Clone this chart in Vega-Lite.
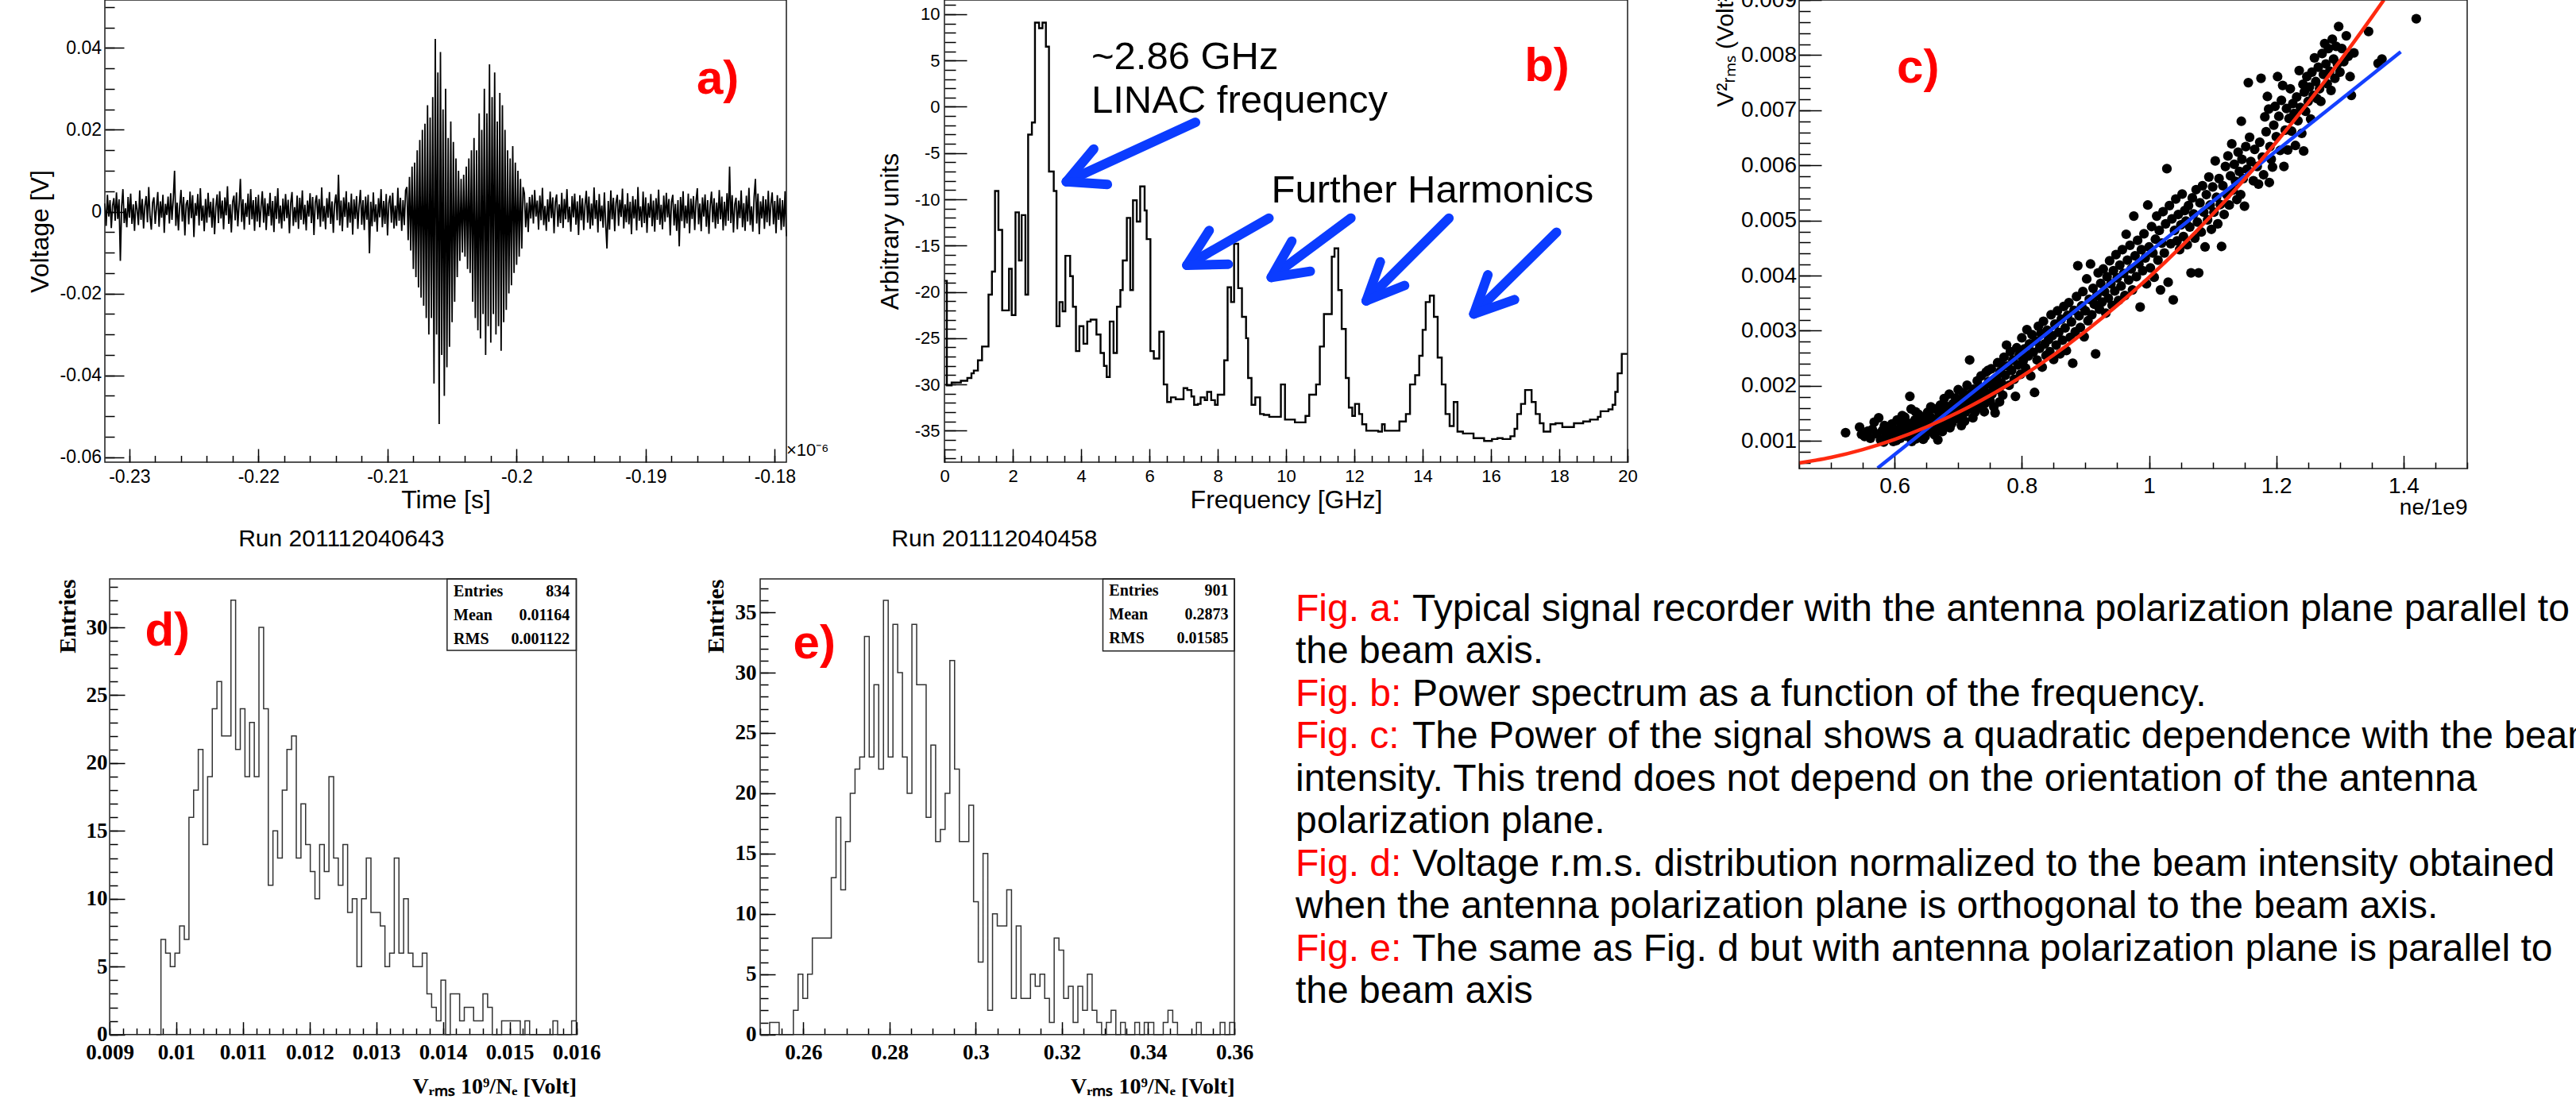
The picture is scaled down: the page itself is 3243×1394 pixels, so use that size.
{
"$schema": "https://vega.github.io/schema/vega-lite/v6.json",
"width": 3243, "height": 1394,
"autosize": {"type": "none"},
"padding": 0,
"background": "white",
"view": {"stroke": null},
"config": {
  "axis": {"grid": false, "domain": false, "labelFlush": false, "labelOverlap": false, "labelBound": false, "labelColor": "black", "titleColor": "black", "tickColor": "black", "tickWidth": 1.5, "labelFont": "Liberation Sans", "titleFont": "Liberation Sans", "titleFontWeight": "normal", "titlePadding": 0}
},
"resolve": {"scale": {"x": "independent", "y": "independent"}, "axis": {"x": "independent", "y": "independent"}},
"layer": [
{
 "resolve": {"axis": {"x": "independent", "y": "independent"}},
 "layer": [
  {
   "data": {"values": "t,v\n-0.2319,0.002\n-0.2318,-0.0035\n-0.2317,0.0041\n-0.2316,-0.0012\n-0.2315,0.0028\n-0.2314,-0.004\n-0.2313,0.0015\n-0.2312,0.0033\n-0.2311,-0.0022\n-0.231,0.0047\n-0.2309,-0.0018\n-0.2308,0.003\n-0.2307,-0.012\n-0.2306,0.0012\n-0.2305,0.0055\n-0.2304,-0.0028\n-0.2303,0.0008\n-0.2302,-0.0038\n-0.2301,0.0036\n-0.23,-0.0015\n-0.2299,0.0044\n-0.2298,-0.003\n-0.2297,0.0018\n-0.2296,-0.0047\n-0.2295,0.0026\n-0.2294,0.0005\n-0.2293,-0.0033\n-0.2292,0.0052\n-0.2291,-0.002\n-0.229,0.0031\n-0.2289,-0.0041\n-0.2288,0.0014\n-0.2287,0.0038\n-0.2286,-0.0026\n-0.2285,0.006\n-0.2284,-0.0012\n-0.2283,-0.0044\n-0.2282,0.0022\n-0.2281,0.0035\n-0.228,-0.003\n-0.2279,0.001\n-0.2278,0.0048\n-0.2277,-0.0037\n-0.2276,0.0025\n-0.2275,-0.0015\n-0.2274,0.0041\n-0.2273,-0.0052\n-0.2272,0.0019\n-0.2271,-0.0008\n-0.227,0.0037\n-0.2269,-0.0029\n-0.2268,0.0045\n-0.2267,-0.002\n-0.2266,0.003\n-0.2265,0.01\n-0.2264,-0.0035\n-0.2263,0.0022\n-0.2262,-0.0046\n-0.2261,0.0014\n-0.226,0.0053\n-0.2259,-0.0024\n-0.2258,0.0036\n-0.2257,-0.0058\n-0.2256,0.0018\n-0.2255,0.0028\n-0.2254,-0.0031\n-0.2253,0.0049\n-0.2252,-0.0016\n-0.2251,0.004\n-0.225,-0.0062\n-0.2249,0.0021\n-0.2248,-0.001\n-0.2247,0.0043\n-0.2246,-0.0034\n-0.2245,0.0057\n-0.2244,-0.0022\n-0.2243,0.0015\n-0.2242,-0.0048\n-0.2241,0.0031\n-0.224,-0.0027\n-0.2239,0.0046\n-0.2238,-0.0014\n-0.2237,0.0024\n-0.2236,-0.0039\n-0.2235,0.0033\n-0.2234,-0.0055\n-0.2233,0.0012\n-0.2232,0.0042\n-0.2231,-0.0028\n-0.223,0.005\n-0.2229,-0.0017\n-0.2228,0.0027\n-0.2227,-0.0043\n-0.2226,0.0035\n-0.2225,-0.0009\n-0.2224,0.0062\n-0.2223,-0.003\n-0.2222,0.0018\n-0.2221,-0.0051\n-0.222,0.0024\n-0.2219,0.0039\n-0.2218,-0.0021\n-0.2217,0.0047\n-0.2216,-0.0036\n-0.2215,0.0016\n-0.2214,0.008\n-0.2213,-0.0025\n-0.2212,0.003\n-0.2211,-0.0044\n-0.221,0.0021\n-0.2209,-0.0013\n-0.2208,0.0044\n-0.2207,-0.0032\n-0.2206,0.0055\n-0.2205,-0.0019\n-0.2204,0.0028\n-0.2203,-0.0047\n-0.2202,0.0036\n-0.2201,-0.0024\n-0.22,0.0041\n-0.2199,-0.0038\n-0.2198,0.0012\n-0.2197,0.005\n-0.2196,-0.0027\n-0.2195,0.0033\n-0.2194,-0.0045\n-0.2193,0.002\n-0.2192,-0.0011\n-0.2191,0.0046\n-0.219,-0.0034\n-0.2189,0.0026\n-0.2188,-0.005\n-0.2187,0.0038\n-0.2186,-0.0018\n-0.2185,0.0057\n-0.2184,-0.0029\n-0.2183,0.0015\n-0.2182,-0.0041\n-0.2181,0.0032\n-0.218,-0.0023\n-0.2179,0.0043\n-0.2178,-0.0016\n-0.2177,0.0029\n-0.2176,-0.0053\n-0.2175,0.0021\n-0.2174,0.0048\n-0.2173,-0.0035\n-0.2172,0.0011\n-0.2171,-0.0026\n-0.217,0.0039\n-0.2169,-0.0042\n-0.2168,0.0034\n-0.2167,-0.002\n-0.2166,0.0052\n-0.2165,-0.0031\n-0.2164,0.0017\n-0.2163,-0.0046\n-0.2162,0.0027\n-0.2161,-0.0012\n-0.216,0.0045\n-0.2159,-0.0028\n-0.2158,0.0036\n-0.2157,-0.0057\n-0.2156,0.0022\n-0.2155,0.004\n-0.2154,-0.0019\n-0.2153,0.0031\n-0.2152,-0.0037\n-0.2151,0.0059\n-0.215,-0.0024\n-0.2149,0.0014\n-0.2148,-0.0043\n-0.2147,0.0033\n-0.2146,-0.0015\n-0.2145,0.0048\n-0.2144,-0.003\n-0.2143,0.0025\n-0.2142,-0.0052\n-0.2141,0.0019\n-0.214,0.0042\n-0.2139,-0.0021\n-0.2138,0.009\n-0.2137,-0.0034\n-0.2136,0.0027\n-0.2135,-0.0048\n-0.2134,0.0035\n-0.2133,-0.0013\n-0.2132,0.005\n-0.2131,-0.0039\n-0.213,0.0023\n-0.2129,-0.0027\n-0.2128,0.0044\n-0.2127,-0.0056\n-0.2126,0.003\n-0.2125,-0.0018\n-0.2124,0.0038\n-0.2123,-0.0042\n-0.2122,0.0016\n-0.2121,0.0053\n-0.212,-0.0032\n-0.2119,0.0028\n-0.2118,-0.0045\n-0.2117,0.0037\n-0.2116,-0.002\n-0.2115,0.0041\n-0.2114,-0.0102\n-0.2113,0.0024\n-0.2112,-0.0036\n-0.2111,0.0047\n-0.211,-0.0025\n-0.2109,0.0018\n-0.2108,-0.0049\n-0.2107,0.0033\n-0.2106,-0.0014\n-0.2105,0.0055\n-0.2104,-0.0038\n-0.2103,0.0026\n-0.2102,-0.003\n-0.2101,0.0043\n-0.21,-0.0058\n-0.2099,0.0021\n-0.2098,0.0039\n-0.2097,-0.0027\n-0.2096,0.0046\n-0.2095,-0.0041\n-0.2094,0.0015\n-0.2093,-0.0035\n-0.2092,0.0058\n-0.2091,-0.0022\n-0.209,0.0034\n-0.2089,-0.0047\n-0.2088,0.0028\n-0.2087,-0.0033\n-0.2086,0.0052\n-0.2085,0.006\n-0.2084,-0.007\n-0.2083,0.0085\n-0.2082,-0.0095\n-0.2081,0.011\n-0.208,-0.014\n-0.2079,0.012\n-0.2078,-0.016\n-0.2077,0.015\n-0.2076,-0.0185\n-0.2075,0.0175\n-0.2074,-0.021\n-0.2073,0.02\n-0.2072,-0.023\n-0.2071,0.0215\n-0.207,-0.026\n-0.2069,0.026\n-0.2068,-0.03\n-0.2067,0.023\n-0.2066,-0.026\n-0.2065,0.028\n-0.2064,-0.042\n-0.2063,0.0422\n-0.2062,-0.03\n-0.2061,0.034\n-0.206,-0.0519\n-0.2059,0.039\n-0.2058,-0.035\n-0.2057,0.025\n-0.2056,-0.045\n-0.2055,0.03\n-0.2054,-0.038\n-0.2053,0.018\n-0.2052,-0.033\n-0.2051,0.022\n-0.205,-0.027\n-0.2049,0.017\n-0.2048,-0.022\n-0.2047,0.013\n-0.2046,-0.016\n-0.2045,0.01\n-0.2044,-0.012\n-0.2043,0.008\n-0.2042,-0.01\n-0.2041,0.009\n-0.204,-0.011\n-0.2039,0.011\n-0.2038,-0.014\n-0.2037,0.013\n-0.2036,-0.015\n-0.2035,0.015\n-0.2034,-0.022\n-0.2033,0.018\n-0.2032,-0.026\n-0.2031,0.015\n-0.203,-0.029\n-0.2029,0.024\n-0.2028,-0.031\n-0.2027,0.02\n-0.2026,-0.025\n-0.2025,0.03\n-0.2024,-0.035\n-0.2023,0.024\n-0.2022,-0.028\n-0.2021,0.036\n-0.202,-0.032\n-0.2019,0.028\n-0.2018,-0.025\n-0.2017,0.034\n-0.2016,-0.03\n-0.2015,0.022\n-0.2014,-0.028\n-0.2013,0.029\n-0.2012,-0.034\n-0.2011,0.026\n-0.201,-0.027\n-0.2009,0.02\n-0.2008,-0.024\n-0.2007,0.015\n-0.2006,-0.02\n-0.2005,0.013\n-0.2004,-0.018\n-0.2003,0.016\n-0.2002,-0.015\n-0.2001,0.012\n-0.2,-0.013\n-0.1999,0.01\n-0.1998,-0.011\n-0.1997,0.008\n-0.1996,-0.009\n-0.1995,0.006\n-0.1994,0.0045\n-0.1993,-0.0038\n-0.1992,0.0022\n-0.1991,-0.005\n-0.199,0.0036\n-0.1989,-0.0017\n-0.1988,0.0041\n-0.1987,-0.0029\n-0.1986,0.0053\n-0.1985,-0.0012\n-0.1984,0.0027\n-0.1983,-0.0044\n-0.1982,0.0039\n-0.1981,-0.0021\n-0.198,0.0058\n-0.1979,-0.0033\n-0.1978,0.0014\n-0.1977,-0.0047\n-0.1976,0.003\n-0.1975,-0.0025\n-0.1974,0.0049\n-0.1973,-0.0016\n-0.1972,0.0035\n-0.1971,-0.0053\n-0.197,0.0023\n-0.1969,0.0042\n-0.1968,-0.0037\n-0.1967,0.0018\n-0.1966,-0.0028\n-0.1965,0.0046\n-0.1964,-0.004\n-0.1963,0.0031\n-0.1962,-0.0019\n-0.1961,0.0055\n-0.196,-0.0026\n-0.1959,0.0012\n-0.1958,-0.0049\n-0.1957,0.0038\n-0.1956,-0.0014\n-0.1955,0.0044\n-0.1954,-0.0032\n-0.1953,0.0025\n-0.1952,-0.0057\n-0.1951,0.004\n-0.195,-0.0021\n-0.1949,0.0033\n-0.1948,-0.0045\n-0.1947,0.0016\n-0.1946,0.0051\n-0.1945,-0.0027\n-0.1944,0.0037\n-0.1943,-0.0042\n-0.1942,0.002\n-0.1941,-0.0034\n-0.194,0.0059\n-0.1939,-0.0018\n-0.1938,0.0028\n-0.1937,-0.0051\n-0.1936,0.0043\n-0.1935,-0.0023\n-0.1934,0.0015\n-0.1933,-0.0039\n-0.1932,0.0047\n-0.1931,-0.003\n-0.193,-0.009\n-0.1929,0.0026\n-0.1928,-0.0044\n-0.1927,0.0052\n-0.1926,-0.0019\n-0.1925,0.0034\n-0.1924,-0.0048\n-0.1923,0.0022\n-0.1922,0.0041\n-0.1921,-0.0035\n-0.192,0.0029\n-0.1919,-0.0013\n-0.1918,0.0056\n-0.1917,-0.0041\n-0.1916,0.0018\n-0.1915,-0.0026\n-0.1914,0.0045\n-0.1913,-0.0031\n-0.1912,0.0024\n-0.1911,-0.0055\n-0.191,0.0038\n-0.1909,-0.0017\n-0.1908,0.003\n-0.1907,-0.0046\n-0.1906,0.006\n-0.1905,-0.0022\n-0.1904,0.0013\n-0.1903,-0.0038\n-0.1902,0.0049\n-0.1901,-0.0028\n-0.19,0.0035\n-0.1899,-0.0052\n-0.1898,0.0021\n-0.1897,-0.0015\n-0.1896,0.0043\n-0.1895,-0.0036\n-0.1894,0.0027\n-0.1893,-0.0049\n-0.1892,0.0033\n-0.1891,-0.002\n-0.189,0.0054\n-0.1889,-0.0032\n-0.1888,0.0017\n-0.1887,-0.0043\n-0.1886,0.0039\n-0.1885,-0.0025\n-0.1884,0.0046\n-0.1883,-0.0014\n-0.1882,0.0031\n-0.1881,-0.0058\n-0.188,0.0024\n-0.1879,0.0041\n-0.1878,-0.0034\n-0.1877,0.0019\n-0.1876,-0.0047\n-0.1875,0.0028\n-0.1874,-0.0085\n-0.1873,0.0036\n-0.1872,-0.0023\n-0.1871,0.005\n-0.187,-0.004\n-0.1869,0.0015\n-0.1868,-0.0029\n-0.1867,0.0044\n-0.1866,-0.0053\n-0.1865,0.0032\n-0.1864,-0.0018\n-0.1863,0.0038\n-0.1862,-0.0045\n-0.1861,0.0026\n-0.186,0.0057\n-0.1859,-0.0031\n-0.1858,0.002\n-0.1857,-0.0048\n-0.1856,0.0035\n-0.1855,-0.0012\n-0.1854,0.0042\n-0.1853,-0.0037\n-0.1852,0.0028\n-0.1851,-0.0054\n-0.185,0.0016\n-0.1849,0.0049\n-0.1848,-0.0026\n-0.1847,0.0033\n-0.1846,-0.0041\n-0.1845,0.0022\n-0.1844,-0.003\n-0.1843,0.0053\n-0.1842,-0.0019\n-0.1841,0.0037\n-0.184,-0.0046\n-0.1839,0.0024\n-0.1838,-0.0035\n-0.1837,0.0045\n-0.1836,-0.0022\n-0.1835,0.011\n-0.1834,-0.0028\n-0.1833,0.004\n-0.1832,-0.0051\n-0.1831,0.0018\n-0.183,0.0034\n-0.1829,-0.0043\n-0.1828,0.0027\n-0.1827,-0.0016\n-0.1826,0.0052\n-0.1825,-0.0038\n-0.1824,0.0021\n-0.1823,-0.0047\n-0.1822,0.0039\n-0.1821,-0.0024\n-0.182,0.0058\n-0.1819,-0.0033\n-0.1818,0.0013\n-0.1817,-0.0049\n-0.1816,0.0036\n-0.1815,0.008\n-0.1814,-0.0029\n-0.1813,0.0044\n-0.1812,-0.0055\n-0.1811,0.0025\n-0.181,-0.0017\n-0.1809,0.0038\n-0.1808,-0.0042\n-0.1807,0.003\n-0.1806,-0.0026\n-0.1805,0.0051\n-0.1804,-0.0035\n-0.1803,0.0019\n-0.1802,0.0047\n-0.1801,-0.0031\n-0.18,0.0026\n-0.1799,-0.0053\n-0.1798,0.004\n-0.1797,-0.002\n-0.1796,0.0033\n-0.1795,-0.0045\n-0.1794,0.0028\n-0.1793,-0.0037\n-0.1792,0.005\n-0.1791,-0.006", "format": {"type": "csv", "parse": {"t": "number", "v": "number"}}},
   "mark": {"type": "line", "color": "black", "strokeWidth": 1.8},
   "encoding": {
    "x": {"field": "t", "type": "quantitative", "scale": {"domain": [-0.2319, -0.1791], "range": [132, 990], "nice": false, "zero": false},
          "axis": {"orient": "bottom", "offset": -812, "values": [-0.23,-0.22,-0.21,-0.2,-0.19,-0.18], "labelExpr": "replace(format(datum.value,'~g'),'\u2212','-')", "tickSize": -17, "labelPadding": 24.5, "labelFontSize": 23, "title": "Time [s]", "titleFontSize": 32, "titleX": 561, "titleY": 57, "titleBaseline": "alphabetic"}},
    "y": {"field": "v", "type": "quantitative", "scale": {"domain": [-0.0612, 0.0517], "range": [582, 0], "nice": false, "zero": false},
          "axis": {"orient": "left", "offset": -132, "values": [-0.06,-0.04,-0.02,0,0.02,0.04], "labelExpr": "replace(format(datum.value,'~g'),'\u2212','-')", "tickSize": -24, "labelPadding": 28.5, "labelFontSize": 23, "title": "Voltage [V]", "titleFontSize": 32, "titleX": -72, "titleY": 291, "titleBaseline": "alphabetic"}}
   }
  },
  {
   "data": {"values": [{"lab": "a)"}]},
   "mark": {"type": "text", "color": "#ff0000", "font": "Liberation Sans", "fontWeight": "bold", "fontSize": 60, "align": "left", "baseline": "alphabetic"},
   "encoding": {
    "x": {"datum": -0.18606, "type": "quantitative", "axis": {"orient": "bottom", "offset": -812, "values": [-0.23,-0.228,-0.226,-0.224,-0.222,-0.22,-0.218,-0.216,-0.214,-0.212,-0.21,-0.208,-0.206,-0.204,-0.202,-0.2,-0.198,-0.196,-0.194,-0.192,-0.19,-0.188,-0.186,-0.184,-0.182,-0.18], "labels": false, "tickSize": -8.5, "title": null}},
    "y": {"datum": 0.02881, "type": "quantitative", "axis": {"orient": "left", "offset": -132, "values": [-0.06,-0.055,-0.05,-0.045,-0.04,-0.035,-0.03,-0.025,-0.02,-0.015,-0.01,-0.005,0,0.005,0.01,0.015,0.02,0.025,0.03,0.035,0.04,0.045,0.05], "labels": false, "tickSize": -12, "title": null}},
    "text": {"field": "lab"}
   }
  },
  {
   "data": {"values": [{"lab": "Run 201112040643"}]},
   "mark": {"type": "text", "color": "black", "font": "Liberation Sans", "fontSize": 30, "align": "left", "baseline": "alphabetic"},
   "encoding": {
    "x": {"datum": -0.22155, "type": "quantitative", "axis": null},
    "y": {"datum": -0.08167, "type": "quantitative", "axis": null},
    "text": {"field": "lab"}
   }
  },
  {
   "data": {"values": [{"lab": "\u00d710\u207b\u2076"}]},
   "mark": {"type": "text", "color": "black", "font": "Liberation Sans", "fontSize": 22, "align": "left", "baseline": "alphabetic"},
   "encoding": {
    "x": {"datum": -0.1791, "type": "quantitative", "axis": null},
    "y": {"datum": -0.0596, "type": "quantitative", "axis": null},
    "text": {"field": "lab"}
   }
  },
  {
   "data": {"values": [{"k": "frame"}]},
   "mark": {"type": "rect", "fill": null, "stroke": "#1a1a1a", "strokeWidth": 1.5},
   "encoding": {
    "x": {"datum": -0.2319, "type": "quantitative", "axis": null}, "x2": {"datum": -0.1791},
    "y": {"datum": -0.0612, "type": "quantitative", "axis": null}, "y2": {"datum": 0.0517}
   }
  }
 ]
},
{
 "resolve": {"axis": {"x": "independent", "y": "independent"}},
 "layer": [
  {
   "data": {"values": "f,v\n0,-18.8\n0.07,-30.1\n0.21,-29.8\n0.48,-29.6\n0.67,-29.3\n0.79,-28.8\n0.86,-28.5\n0.98,-27.4\n1.1,-25.9\n1.29,-20.3\n1.39,-17.8\n1.48,-9.1\n1.58,-13.3\n1.69,-22\n1.89,-17.5\n1.97,-22.5\n2.08,-11.4\n2.18,-16.6\n2.26,-11.7\n2.37,-20.3\n2.45,-3\n2.56,-1.7\n2.65,9.1\n2.77,8.5\n2.87,9.1\n2.97,6.5\n3.06,-7\n3.2,-9.1\n3.28,-23.7\n3.37,-21.1\n3.46,-22.1\n3.54,-16.1\n3.68,-18.3\n3.76,-21.6\n3.85,-26.4\n3.95,-23.7\n4.07,-25.6\n4.18,-23.2\n4.28,-23\n4.45,-24.6\n4.57,-26.6\n4.67,-28\n4.75,-29.2\n4.84,-23.2\n4.95,-26.6\n5.05,-21.6\n5.15,-19.8\n5.22,-16.6\n5.34,-12\n5.44,-19.8\n5.52,-10.1\n5.63,-12.4\n5.73,-8.6\n5.86,-11.2\n5.92,-14.3\n6.03,-26.4\n6.13,-27.2\n6.29,-24.3\n6.42,-30\n6.52,-31.9\n6.63,-31.4\n6.77,-31.6\n7,-30.4\n7.11,-30.6\n7.23,-31.3\n7.31,-32.2\n7.42,-32.1\n7.5,-31.4\n7.62,-31.7\n7.69,-30.8\n7.81,-31.7\n7.92,-32.2\n8,-31.1\n8.19,-27.4\n8.29,-19.5\n8.39,-21.1\n8.48,-14.8\n8.6,-19.6\n8.71,-22.7\n8.83,-25\n8.89,-29.3\n8.99,-32.2\n9.1,-31.4\n9.24,-33.2\n9.35,-33.3\n9.51,-33.5\n9.85,-30\n9.97,-33.8\n10.14,-33.8\n10.26,-34.1\n10.57,-33.4\n10.68,-31.1\n10.88,-30\n10.99,-25.9\n11.11,-22.4\n11.34,-16.2\n11.42,-15.3\n11.53,-19.8\n11.63,-24\n11.75,-29.3\n11.84,-32.5\n11.94,-33.4\n12.02,-32.1\n12.14,-33.2\n12.23,-34.3\n12.35,-35\n12.7,-35.1\n12.81,-34.3\n12.89,-35\n13.32,-34\n13.51,-33.2\n13.63,-30\n13.78,-29\n13.9,-26.9\n14,-24.1\n14.09,-21.1\n14.21,-20.4\n14.33,-22.7\n14.44,-27.1\n14.56,-30\n14.67,-33.2\n14.79,-34.5\n14.91,-31.9\n15.02,-35.1\n15.18,-35.3\n15.49,-35.8\n15.8,-36.1\n16.03,-35.9\n16.19,-35.8\n16.34,-35.9\n16.57,-35.6\n16.69,-34.8\n16.77,-33.2\n16.88,-32.1\n17,-30.6\n17.19,-31.9\n17.31,-33.2\n17.43,-34.2\n17.54,-35.1\n17.74,-34.3\n17.89,-34.2\n18.09,-34.6\n18.43,-34.2\n18.7,-34\n18.9,-33.8\n19.13,-33.5\n19.21,-32.9\n19.44,-32.7\n19.56,-32.2\n19.64,-30.8\n19.71,-28.8\n19.83,-26.7\n20,-26.7", "format": {"type": "csv", "parse": {"f": "number", "v": "number"}}},
   "mark": {"type": "line", "color": "black", "strokeWidth": 2.4, "interpolate": "step-after"},
   "encoding": {
    "x": {"field": "f", "type": "quantitative", "scale": {"domain": [0, 20], "range": [1189, 2049], "nice": false, "zero": false},
          "axis": {"orient": "bottom", "offset": -812, "values": [0,2,4,6,8,10,12,14,16,18,20], "tickSize": -17, "labelPadding": 24.5, "labelFontSize": 22, "title": "Frequency [GHz]", "titleFontSize": 32, "titleX": 1619, "titleY": 57, "titleBaseline": "alphabetic"}},
    "y": {"field": "v", "type": "quantitative", "scale": {"domain": [-38.4, 11.54], "range": [582, 0], "nice": false, "zero": false},
          "axis": {"orient": "left", "offset": -1189, "values": [-35,-30,-25,-20,-15,-10,-5,0,5,10], "labelExpr": "replace(format(datum.value,'~g'),'\u2212','-')", "tickSize": -28, "labelPadding": 34, "labelFontSize": 22, "title": "Arbitrary units", "titleFontSize": 32, "titleX": -59, "titleY": 291, "titleBaseline": "alphabetic"}}
   }
  },
  {
   "data": {"values": "f,v,f2,v2\n7.35,-1.68,3.57,-8.09\n4.37,-4.56,3.57,-8.09\n4.77,-8.39,3.57,-8.09\n9.5,-12.03,7.1,-17.12\n7.75,-13.37,7.1,-17.12\n8.31,-17.01,7.1,-17.12\n11.9,-12.03,9.57,-18.43\n10.17,-14.52,9.57,-18.43\n10.71,-17.78,9.57,-18.43\n14.77,-12.03,12.35,-20.96\n12.76,-16.75,12.35,-20.96\n13.47,-19.31,12.35,-20.96\n17.92,-13.56,15.5,-22.38\n15.91,-18.16,15.5,-22.38\n16.69,-20.84,15.5,-22.38", "format": {"type": "csv", "parse": {"f": "number", "v": "number", "f2": "number", "v2": "number"}}},
   "mark": {"type": "rule", "color": "#0b3cff", "strokeWidth": 12, "strokeCap": "round"},
   "encoding": {
    "x": {"field": "f", "type": "quantitative", "axis": {"orient": "bottom", "offset": -812, "values": [0,0.5,1,1.5,2,2.5,3,3.5,4,4.5,5,5.5,6,6.5,7,7.5,8,8.5,9,9.5,10,10.5,11,11.5,12,12.5,13,13.5,14,14.5,15,15.5,16,16.5,17,17.5,18,18.5,19,19.5,20], "labels": false, "tickSize": -8.5, "title": null}},
    "y": {"field": "v", "type": "quantitative", "axis": {"orient": "left", "offset": -1189, "values": [-38,-37,-36,-35,-34,-33,-32,-31,-30,-29,-28,-27,-26,-25,-24,-23,-22,-21,-20,-19,-18,-17,-16,-15,-14,-13,-12,-11,-10,-9,-8,-7,-6,-5,-4,-3,-2,-1,0,1,2,3,4,5,6,7,8,9,10,11], "labels": false, "tickSize": -14, "title": null}},
    "x2": {"field": "f2"},
    "y2": {"field": "v2"}
   }
  },
  {
   "data": {"values": [{"lab": "~2.86 GHz\nLINAC frequency"}]},
   "mark": {"type": "text", "color": "black", "font": "Liberation Sans", "fontSize": 49, "align": "left", "baseline": "alphabetic", "lineBreak": "\n", "lineHeight": 55},
   "encoding": {
    "x": {"datum": 4.3, "type": "quantitative", "axis": null},
    "y": {"datum": 4.07, "type": "quantitative", "axis": null},
    "text": {"field": "lab"}
   }
  },
  {
   "data": {"values": [{"lab": "Further Harmonics"}]},
   "mark": {"type": "text", "color": "black", "font": "Liberation Sans", "fontSize": 49, "align": "left", "baseline": "alphabetic"},
   "encoding": {
    "x": {"datum": 9.57, "type": "quantitative", "axis": null},
    "y": {"datum": -10.3, "type": "quantitative", "axis": null},
    "text": {"field": "lab"}
   }
  },
  {
   "data": {"values": [{"lab": "b)"}]},
   "mark": {"type": "text", "color": "#ff0000", "font": "Liberation Sans", "fontWeight": "bold", "fontSize": 60, "align": "left", "baseline": "alphabetic"},
   "encoding": {
    "x": {"datum": 16.98, "type": "quantitative", "axis": null},
    "y": {"datum": 2.8, "type": "quantitative", "axis": null},
    "text": {"field": "lab"}
   }
  },
  {
   "data": {"values": [{"lab": "Run 201112040458"}]},
   "mark": {"type": "text", "color": "black", "font": "Liberation Sans", "fontSize": 30, "align": "left", "baseline": "alphabetic"},
   "encoding": {
    "x": {"datum": -1.55, "type": "quantitative", "axis": null},
    "y": {"datum": -47.5, "type": "quantitative", "axis": null},
    "text": {"field": "lab"}
   }
  },
  {
   "data": {"values": [{"k": "frame"}]},
   "mark": {"type": "rect", "fill": null, "stroke": "#1a1a1a", "strokeWidth": 1.5},
   "encoding": {
    "x": {"datum": 0, "type": "quantitative", "axis": null}, "x2": {"datum": 20},
    "y": {"datum": -38.4, "type": "quantitative", "axis": null}, "y2": {"datum": 11.54}
   }
  }
 ]
},
{
 "resolve": {"axis": {"x": "independent", "y": "independent"}},
 "layer": [
  {
   "data": {"values": "x,y\n0.523,0.00115\n0.545,0.00125\n0.548,0.00112\n0.553,0.00108\n0.558,0.00118\n0.562,0.00105\n0.565,0.00121\n0.568,0.00134\n0.572,0.00113\n0.575,0.00142\n0.578,0.00102\n0.581,0.00119\n0.583,0.00098\n0.584,0.00128\n0.587,0.00108\n0.59,0.00115\n0.592,0.00107\n0.593,0.00124\n0.596,0.00131\n0.598,0.00099\n0.601,0.00112\n0.603,0.00101\n0.604,0.00138\n0.606,0.00121\n0.609,0.00105\n0.611,0.00128\n0.612,0.00146\n0.613,0.00116\n0.616,0.00143\n0.618,0.00109\n0.619,0.00125\n0.62,0.00133\n0.622,0.00122\n0.624,0.00181\n0.626,0.00158\n0.627,0.00099\n0.628,0.00112\n0.63,0.00127\n0.632,0.00138\n0.633,0.00153\n0.634,0.00104\n0.636,0.00119\n0.638,0.00148\n0.639,0.00112\n0.64,0.00131\n0.642,0.00115\n0.644,0.00125\n0.645,0.00103\n0.646,0.00141\n0.648,0.00108\n0.65,0.00134\n0.651,0.00118\n0.652,0.00152\n0.654,0.00121\n0.656,0.00144\n0.657,0.00162\n0.658,0.00129\n0.66,0.00116\n0.662,0.00139\n0.663,0.00111\n0.664,0.00158\n0.666,0.00126\n0.668,0.00102\n0.669,0.00129\n0.67,0.00147\n0.672,0.00165\n0.674,0.00134\n0.675,0.00117\n0.676,0.00152\n0.678,0.00177\n0.68,0.00141\n0.681,0.00163\n0.682,0.00128\n0.684,0.00159\n0.686,0.00185\n0.687,0.00124\n0.688,0.00146\n0.69,0.00132\n0.692,0.00168\n0.693,0.00139\n0.694,0.00155\n0.696,0.00178\n0.698,0.00141\n0.699,0.00169\n0.7,0.00193\n0.702,0.00162\n0.704,0.00149\n0.705,0.00128\n0.706,0.00175\n0.708,0.00187\n0.71,0.00136\n0.711,0.00152\n0.712,0.00169\n0.714,0.00201\n0.716,0.00158\n0.717,0.00184\n0.718,0.00247\n0.72,0.00181\n0.722,0.00166\n0.723,0.00142\n0.724,0.00194\n0.726,0.00152\n0.728,0.00173\n0.729,0.00159\n0.73,0.00209\n0.732,0.00188\n0.734,0.00161\n0.735,0.00197\n0.736,0.00218\n0.738,0.00179\n0.74,0.00197\n0.741,0.00153\n0.742,0.00168\n0.744,0.00225\n0.746,0.00186\n0.747,0.00228\n0.748,0.00208\n0.75,0.00173\n0.752,0.00231\n0.753,0.00185\n0.754,0.00199\n0.756,0.00162\n0.758,0.00151\n0.759,0.00204\n0.76,0.00214\n0.762,0.00242\n0.764,0.00193\n0.765,0.00171\n0.766,0.00226\n0.768,0.00205\n0.77,0.00183\n0.771,0.00236\n0.772,0.00252\n0.774,0.00219\n0.776,0.00274\n0.778,0.00236\n0.78,0.00201\n0.782,0.00262\n0.784,0.00228\n0.786,0.00247\n0.788,0.00212\n0.79,0.00181\n0.792,0.00269\n0.794,0.00238\n0.796,0.00256\n0.798,0.00221\n0.8,0.00287\n0.802,0.00245\n0.804,0.00267\n0.806,0.00232\n0.808,0.00302\n0.81,0.00254\n0.812,0.00276\n0.814,0.00218\n0.816,0.00293\n0.818,0.00261\n0.82,0.00188\n0.822,0.00281\n0.824,0.00247\n0.826,0.00308\n0.828,0.00268\n0.83,0.00295\n0.832,0.00234\n0.834,0.00317\n0.836,0.00276\n0.838,0.00255\n0.84,0.00301\n0.842,0.00284\n0.844,0.00262\n0.846,0.00329\n0.848,0.00291\n0.85,0.00248\n0.852,0.00312\n0.854,0.00274\n0.856,0.00336\n0.858,0.00297\n0.86,0.00258\n0.862,0.00321\n0.864,0.00283\n0.866,0.00344\n0.868,0.00305\n0.87,0.00264\n0.872,0.00328\n0.874,0.00351\n0.876,0.00288\n0.878,0.00316\n0.88,0.00241\n0.882,0.00337\n0.884,0.00298\n0.886,0.00362\n0.888,0.00418\n0.89,0.00327\n0.892,0.00306\n0.894,0.00345\n0.896,0.00371\n0.898,0.00289\n0.9,0.00336\n0.902,0.00394\n0.904,0.00318\n0.906,0.00357\n0.908,0.00421\n0.91,0.00329\n0.912,0.00377\n0.914,0.00348\n0.916,0.00258\n0.918,0.00364\n0.92,0.00405\n0.922,0.00339\n0.924,0.00386\n0.926,0.00352\n0.928,0.00412\n0.93,0.00371\n0.932,0.00332\n0.934,0.00398\n0.936,0.00359\n0.938,0.00427\n0.94,0.00385\n0.942,0.00346\n0.944,0.00409\n0.946,0.00372\n0.948,0.00438\n0.95,0.00396\n0.952,0.00355\n0.954,0.00419\n0.956,0.00381\n0.958,0.00447\n0.96,0.00404\n0.962,0.00364\n0.964,0.00475\n0.966,0.00428\n0.968,0.00392\n0.97,0.00455\n0.972,0.00412\n0.974,0.00374\n0.976,0.00508\n0.978,0.00436\n0.98,0.00398\n0.982,0.00464\n0.984,0.00421\n0.986,0.00343\n0.988,0.00447\n0.99,0.00409\n0.992,0.00476\n0.994,0.00432\n0.996,0.00385\n0.998,0.00528\n1,0.00452\n1.002,0.00414\n1.004,0.00489\n1.006,0.00441\n1.008,0.00397\n1.01,0.00466\n1.012,0.00508\n1.014,0.00428\n1.016,0.00482\n1.018,0.00374\n1.02,0.00459\n1.022,0.00516\n1.024,0.00441\n1.026,0.00494\n1.028,0.00594\n1.03,0.00388\n1.032,0.00527\n1.034,0.00458\n1.036,0.00503\n1.038,0.00356\n1.04,0.00482\n1.042,0.00539\n1.044,0.00463\n1.046,0.00511\n1.048,0.00447\n1.05,0.00492\n1.052,0.00548\n1.054,0.00471\n1.056,0.00518\n1.058,0.00499\n1.06,0.00456\n1.062,0.00527\n1.064,0.00488\n1.066,0.00405\n1.068,0.00541\n1.07,0.00512\n1.072,0.00468\n1.074,0.00556\n1.076,0.00497\n1.078,0.00405\n1.08,0.00532\n1.082,0.00479\n1.084,0.00563\n1.086,0.00515\n1.088,0.00452\n1.09,0.00547\n1.092,0.00501\n1.094,0.00579\n1.096,0.00528\n1.098,0.00484\n1.1,0.00561\n1.102,0.00515\n1.104,0.00608\n1.106,0.00542\n1.108,0.00494\n1.11,0.00576\n1.112,0.00529\n1.114,0.00453\n1.116,0.00563\n1.118,0.00511\n1.12,0.00598\n1.122,0.00547\n1.124,0.00617\n1.126,0.00528\n1.128,0.00581\n1.13,0.00639\n1.132,0.00555\n1.134,0.00602\n1.136,0.00571\n1.138,0.00538\n1.14,0.00624\n1.142,0.00589\n1.144,0.00547\n1.145,0.0068\n1.146,0.00611\n1.148,0.00576\n1.15,0.00526\n1.152,0.00634\n1.154,0.00593\n1.156,0.0075\n1.158,0.00651\n1.16,0.00607\n1.164,0.00572\n1.166,0.00629\n1.17,0.00598\n1.172,0.00566\n1.174,0.00642\n1.176,0.00758\n1.178,0.00615\n1.18,0.00583\n1.182,0.00688\n1.184,0.00661\n1.186,0.00725\n1.188,0.00702\n1.189,0.00569\n1.19,0.00634\n1.192,0.00611\n1.194,0.00597\n1.196,0.00673\n1.198,0.00707\n1.2,0.00652\n1.202,0.00761\n1.204,0.00689\n1.206,0.00627\n1.208,0.00718\n1.21,0.00745\n1.212,0.00598\n1.214,0.00664\n1.216,0.00703\n1.218,0.00628\n1.22,0.00685\n1.222,0.00739\n1.224,0.00662\n1.226,0.00712\n1.228,0.00694\n1.23,0.00636\n1.232,0.00724\n1.234,0.00681\n1.236,0.00772\n1.238,0.00705\n1.24,0.00658\n1.242,0.00747\n1.243,0.00626\n1.244,0.00733\n1.246,0.00698\n1.248,0.00761\n1.25,0.00716\n1.252,0.00742\n1.254,0.00684\n1.256,0.00769\n1.258,0.00727\n1.26,0.00795\n1.262,0.00752\n1.264,0.00721\n1.266,0.00778\n1.268,0.00739\n1.27,0.00716\n1.272,0.00803\n1.274,0.00765\n1.276,0.00821\n1.278,0.00784\n1.28,0.00748\n1.282,0.00812\n1.284,0.00771\n1.286,0.00736\n1.288,0.00829\n1.29,0.00793\n1.292,0.00758\n1.294,0.00816\n1.296,0.00784\n1.298,0.00852\n1.3,0.00769\n1.303,0.00812\n1.306,0.00788\n1.31,0.00835\n1.313,0.00798\n1.316,0.00761\n1.318,0.00727\n1.322,0.00804\n1.345,0.00843\n1.36,0.00785\n1.366,0.00793\n1.42,0.00866", "format": {"type": "csv", "parse": {"x": "number", "y": "number"}}},
   "mark": {"type": "circle", "color": "black", "opacity": 1, "size": 150},
   "encoding": {
    "x": {"field": "x", "type": "quantitative", "scale": {"domain": [0.45, 1.5], "range": [2265, 3106], "nice": false, "zero": false},
          "axis": {"orient": "bottom", "offset": -804, "values": [0.6,0.8,1,1.2,1.4], "format": "~g", "tickSize": -16.5, "labelPadding": 24.5, "labelFontSize": 28, "title": "ne/1e9", "titleFontSize": 28, "titleX": 3106, "titleY": 57, "titleAlign": "right", "titleBaseline": "alphabetic"}},
    "y": {"field": "y", "type": "quantitative", "scale": {"domain": [0.0005, 0.009], "range": [590, 0], "nice": false, "zero": false},
          "axis": {"orient": "left", "offset": -2265, "values": [0.001,0.002,0.003,0.004,0.005,0.006,0.007,0.008,0.009], "format": "~g", "tickSize": -28, "labelPadding": 31.5, "labelFontSize": 28, "title": "V\u00b2\u1d63\u2098\u209b (Volt\u00b2)", "titleFontSize": 30, "titleX": -84, "titleY": 134, "titleAlign": "left", "titleBaseline": "alphabetic"}}
   }
  },
  {
   "data": {"values": "x,y\n0.5733,0.000508\n1.3956,0.00806", "format": {"type": "csv", "parse": {"x": "number", "y": "number"}}},
   "mark": {"type": "line", "color": "#1440ff", "strokeWidth": 4.5},
   "encoding": {
    "x": {"field": "x", "type": "quantitative", "axis": {"orient": "bottom", "offset": -804, "values": [0.45,0.5,0.55,0.6,0.65,0.7,0.75,0.8,0.85,0.9,0.95,1,1.05,1.1,1.15,1.2,1.25,1.3,1.35,1.4,1.45,1.5], "labels": false, "tickSize": -8, "title": null}},
    "y": {"field": "y", "type": "quantitative", "axis": {"orient": "left", "offset": -2265, "values": [0.0006,0.0008,0.001,0.0012,0.0014,0.0016,0.0018,0.002,0.0022,0.0024,0.0026,0.0028,0.003,0.0032,0.0034,0.0036,0.0038,0.004,0.0042,0.0044,0.0046,0.0048,0.005,0.0052,0.0054,0.0056,0.0058,0.006,0.0062,0.0064,0.0066,0.0068,0.007,0.0072,0.0074,0.0076,0.0078,0.008,0.0082,0.0084,0.0086,0.0088,0.009], "labels": false, "tickSize": -14, "title": null}}
   }
  },
  {
   "data": {"values": "x,y\n0.45,0.0006\n0.5,0.000702\n0.55,0.000845\n0.6,0.001028\n0.65,0.001253\n0.7,0.001519\n0.75,0.001825\n0.8,0.002172\n0.85,0.00256\n0.9,0.002989\n0.95,0.00346\n1,0.00397\n1.05,0.004521\n1.1,0.005114\n1.15,0.005747\n1.2,0.006421\n1.25,0.007137\n1.3,0.007893\n1.35,0.008689\n1.369,0.009", "format": {"type": "csv", "parse": {"x": "number", "y": "number"}}},
   "mark": {"type": "line", "color": "#ff2a10", "strokeWidth": 4.5, "interpolate": "monotone"},
   "encoding": {
    "x": {"field": "x", "type": "quantitative", "axis": null},
    "y": {"field": "y", "type": "quantitative", "axis": null}
   }
  },
  {
   "data": {"values": [{"lab": "c)"}]},
   "mark": {"type": "text", "color": "#ff0000", "font": "Liberation Sans", "fontWeight": "bold", "fontSize": 60, "align": "left", "baseline": "alphabetic"},
   "encoding": {
    "x": {"datum": 0.6037, "type": "quantitative", "axis": null},
    "y": {"datum": 0.007505, "type": "quantitative", "axis": null},
    "text": {"field": "lab"}
   }
  },
  {
   "data": {"values": [{"k": "frame"}]},
   "mark": {"type": "rect", "fill": null, "stroke": "#1a1a1a", "strokeWidth": 1.5},
   "encoding": {
    "x": {"datum": 0.45, "type": "quantitative", "axis": null}, "x2": {"datum": 1.5},
    "y": {"datum": 0.0005, "type": "quantitative", "axis": null}, "y2": {"datum": 0.009}
   }
  }
 ]
},
{
 "resolve": {"axis": {"x": "independent", "y": "independent"}},
 "layer": [
  {
   "data": {"values": "x,n\n0.0097,0\n0.00977,7\n0.00984,6\n0.00991,5\n0.00998,6\n0.01005,8\n0.01012,7\n0.01019,16\n0.01026,18\n0.01033,21\n0.0104,14\n0.01047,19\n0.01054,24\n0.01061,26\n0.01068,22\n0.01075,22\n0.01082,32\n0.01089,21\n0.01096,24\n0.01103,19\n0.0111,23\n0.01117,19\n0.01124,30\n0.01131,24\n0.01138,11\n0.01145,15\n0.01152,13\n0.01159,18\n0.01166,21\n0.01173,22\n0.0118,13\n0.01187,17\n0.01194,14\n0.01201,12\n0.01208,10\n0.01215,14\n0.01222,12\n0.01229,19\n0.01236,13\n0.01243,11\n0.0125,14\n0.01257,9\n0.01264,10\n0.01271,5\n0.01278,10\n0.01285,13\n0.01292,9\n0.01299,9\n0.01306,8\n0.01313,5\n0.0132,6\n0.01327,13\n0.01334,6\n0.01341,10\n0.01348,6\n0.01355,5\n0.01362,5\n0.01369,6\n0.01376,3\n0.01383,2\n0.0139,1\n0.01397,4\n0.01404,0\n0.01411,3\n0.01418,3\n0.01425,1\n0.01432,2\n0.01439,2\n0.01446,1\n0.01453,1\n0.0146,3\n0.01467,2\n0.01474,0\n0.01481,0\n0.01488,1\n0.01495,1\n0.01502,1\n0.01509,1\n0.01516,0\n0.01523,1\n0.0153,0\n0.01537,0\n0.01544,0\n0.01551,0\n0.01558,0\n0.01565,1\n0.01572,0\n0.01579,0\n0.01586,0\n0.01593,1\n0.016,1", "format": {"type": "csv", "parse": {"x": "number", "n": "number"}}},
   "mark": {"type": "line", "color": "#333333", "strokeWidth": 1.5, "interpolate": "step-after"},
   "encoding": {
    "x": {"field": "x", "type": "quantitative", "scale": {"domain": [0.009, 0.016], "range": [138, 725.5], "nice": false, "zero": false},
          "axis": {"orient": "bottom", "offset": -91.3, "values": [0.009,0.01,0.011,0.012,0.013,0.014,0.015,0.016], "format": "~g", "tickSize": -16, "labelPadding": 25.5, "labelFont": "Liberation Serif", "labelFontWeight": "bold", "labelFontSize": 27, "title": "V\u1d63\u2098\u209b 10\u2079/N\u2091 [Volt]", "titleFont": "Liberation Serif", "titleFontWeight": "bold", "titleFontSize": 28, "titleX": 725.5, "titleY": 74, "titleAlign": "right", "titleBaseline": "alphabetic"}},
    "y": {"field": "n", "type": "quantitative", "scale": {"domain": [0, 33.57], "range": [1302.7, 729], "nice": false, "zero": false},
          "axis": {"orient": "left", "offset": -138, "values": [0,5,10,15,20,25,30], "tickSize": -19, "labelPadding": 22, "labelFont": "Liberation Serif", "labelFontWeight": "bold", "labelFontSize": 27, "title": "Entries", "titleFont": "Liberation Serif", "titleFontWeight": "bold", "titleFontSize": 30, "titleX": -44, "titleY": 729, "titleAlign": "right", "titleBaseline": "alphabetic"}}
   }
  },
  {
   "data": {"values": [{"lab": "d)"}]},
   "mark": {"type": "text", "color": "#ff0000", "font": "Liberation Sans", "fontWeight": "bold", "fontSize": 60, "align": "left", "baseline": "alphabetic"},
   "encoding": {
    "x": {"datum": 0.009529, "type": "quantitative", "axis": {"orient": "bottom", "offset": -91.3, "values": [0.009,0.0092,0.0094,0.0096,0.0098,0.01,0.0102,0.0104,0.0106,0.0108,0.011,0.0112,0.0114,0.0116,0.0118,0.012,0.0122,0.0124,0.0126,0.0128,0.013,0.0132,0.0134,0.0136,0.0138,0.014,0.0142,0.0144,0.0146,0.0148,0.015,0.0152,0.0154,0.0156,0.0158,0.016], "labels": false, "tickSize": -8, "title": null}},
    "y": {"datum": 28.65, "type": "quantitative", "axis": {"orient": "left", "offset": -138, "values": [0,1,2,3,4,5,6,7,8,9,10,11,12,13,14,15,16,17,18,19,20,21,22,23,24,25,26,27,28,29,30,31,32,33], "labels": false, "tickSize": -10, "title": null}},
    "text": {"field": "lab"}
   }
  },
  {
   "data": {"values": [{"k": "box"}]},
   "mark": {"type": "rect", "fill": "white", "stroke": "#222222", "strokeWidth": 1.5},
   "encoding": {
    "x": {"datum": 0.014062, "type": "quantitative", "axis": null}, "x2": {"datum": 0.016},
    "y": {"datum": 28.3, "type": "quantitative", "axis": null}, "y2": {"datum": 33.57}
   }
  },
  {
   "data": {"values": [{"names": "Entries\nMean\nRMS", "vals": "834\n0.01164\n0.001122"}]},
   "layer": [
    {
     "mark": {"type": "text", "color": "black", "font": "Liberation Serif", "fontWeight": "bold", "fontSize": 20, "align": "left", "baseline": "alphabetic", "lineBreak": "\n", "lineHeight": 30},
     "encoding": {"x": {"datum": 0.01416, "type": "quantitative", "axis": null}, "y": {"datum": 32.3, "type": "quantitative", "axis": null}, "text": {"field": "names"}}
    },
    {
     "mark": {"type": "text", "color": "black", "font": "Liberation Serif", "fontWeight": "bold", "fontSize": 20, "align": "right", "baseline": "alphabetic", "lineBreak": "\n", "lineHeight": 30},
     "encoding": {"x": {"datum": 0.015903, "type": "quantitative", "axis": null}, "y": {"datum": 32.3, "type": "quantitative", "axis": null}, "text": {"field": "vals"}}
    }
   ]
  },
  {
   "data": {"values": [{"k": "frame"}]},
   "mark": {"type": "rect", "fill": null, "stroke": "#222222", "strokeWidth": 1.5},
   "encoding": {
    "x": {"datum": 0.009, "type": "quantitative", "axis": null}, "x2": {"datum": 0.016},
    "y": {"datum": 0, "type": "quantitative", "axis": null}, "y2": {"datum": 33.57}
   }
  }
 ]
},
{
 "resolve": {"axis": {"x": "independent", "y": "independent"}},
 "layer": [
  {
   "data": {"values": "x,n\n0.25,0\n0.2511,0\n0.2522,1\n0.2533,1\n0.2544,0\n0.2555,0\n0.2566,0\n0.2577,2\n0.2588,5\n0.2599,3\n0.261,5\n0.2621,8\n0.2632,8\n0.2643,8\n0.2654,8\n0.2665,13\n0.2676,18\n0.2687,12\n0.2698,16\n0.2709,20\n0.272,22\n0.2731,23\n0.2742,33\n0.2753,23\n0.2764,29\n0.2775,22\n0.2786,36\n0.2797,23\n0.2808,34\n0.2819,30\n0.283,23\n0.2841,20\n0.2852,34\n0.2863,29\n0.2874,29\n0.2885,18\n0.2896,24\n0.2907,16\n0.2918,17\n0.2929,20\n0.294,31\n0.2951,22\n0.2962,16\n0.2973,16\n0.2984,19\n0.2995,11\n0.3006,6\n0.3017,15\n0.3028,2\n0.3039,10\n0.305,9\n0.3061,9\n0.3072,12\n0.3083,3\n0.3094,9\n0.3105,3\n0.3116,3\n0.3127,5\n0.3138,4\n0.3149,5\n0.316,3\n0.3171,1\n0.3182,8\n0.3193,7\n0.3204,3\n0.3215,4\n0.3226,1\n0.3237,4\n0.3248,2\n0.3259,5\n0.327,2\n0.3281,1\n0.3292,0\n0.3303,1\n0.3314,2\n0.3325,0\n0.3336,1\n0.3347,0\n0.3358,0\n0.3369,1\n0.338,0\n0.3391,1\n0.3402,1\n0.3413,0\n0.3424,0\n0.3435,1\n0.3446,2\n0.3457,1\n0.3468,0\n0.3479,0\n0.349,0\n0.3501,0\n0.3512,1\n0.3523,0\n0.3534,0\n0.3545,0\n0.3556,0\n0.3567,1\n0.3578,0\n0.3589,1\n0.36,1", "format": {"type": "csv", "parse": {"x": "number", "n": "number"}}},
   "mark": {"type": "line", "color": "#333333", "strokeWidth": 1.5, "interpolate": "step-after"},
   "encoding": {
    "x": {"field": "x", "type": "quantitative", "scale": {"domain": [0.25, 0.36], "range": [957, 1554], "nice": false, "zero": false},
          "axis": {"orient": "bottom", "offset": -91.3, "values": [0.26,0.28,0.3,0.32,0.34,0.36], "format": "~g", "tickSize": -16, "labelPadding": 25.5, "labelFont": "Liberation Serif", "labelFontWeight": "bold", "labelFontSize": 27, "title": "V\u1d63\u2098\u209b 10\u2079/N\u2091 [Volt]", "titleFont": "Liberation Serif", "titleFontWeight": "bold", "titleFontSize": 28, "titleX": 1554, "titleY": 74, "titleAlign": "right", "titleBaseline": "alphabetic"}},
    "y": {"field": "n", "type": "quantitative", "scale": {"domain": [0, 37.77], "range": [1302.7, 729], "nice": false, "zero": false},
          "axis": {"orient": "left", "offset": -957, "values": [0,5,10,15,20,25,30,35], "tickSize": -19, "labelPadding": 24, "labelFont": "Liberation Serif", "labelFontWeight": "bold", "labelFontSize": 27, "title": "Entries", "titleFont": "Liberation Serif", "titleFontWeight": "bold", "titleFontSize": 30, "titleX": -47, "titleY": 729, "titleAlign": "right", "titleBaseline": "alphabetic"}}
   }
  },
  {
   "data": {"values": [{"lab": "e)"}]},
   "mark": {"type": "text", "color": "#ff0000", "font": "Liberation Sans", "fontWeight": "bold", "fontSize": 60, "align": "left", "baseline": "alphabetic"},
   "encoding": {
    "x": {"datum": 0.25766, "type": "quantitative", "axis": {"orient": "bottom", "offset": -91.3, "values": [0.25,0.255,0.26,0.265,0.27,0.275,0.28,0.285,0.29,0.295,0.3,0.305,0.31,0.315,0.32,0.325,0.33,0.335,0.34,0.345,0.35,0.355,0.36], "labels": false, "tickSize": -8, "title": null}},
    "y": {"datum": 31.2, "type": "quantitative", "axis": {"orient": "left", "offset": -957, "values": [0,1,2,3,4,5,6,7,8,9,10,11,12,13,14,15,16,17,18,19,20,21,22,23,24,25,26,27,28,29,30,31,32,33,34,35,36,37], "labels": false, "tickSize": -10, "title": null}},
    "text": {"field": "lab"}
   }
  },
  {
   "data": {"values": [{"k": "box"}]},
   "mark": {"type": "rect", "fill": "white", "stroke": "#222222", "strokeWidth": 1.5},
   "encoding": {
    "x": {"datum": 0.3295, "type": "quantitative", "axis": null}, "x2": {"datum": 0.36},
    "y": {"datum": 31.8, "type": "quantitative", "axis": null}, "y2": {"datum": 37.77}
   }
  },
  {
   "data": {"values": [{"names": "Entries\nMean\nRMS", "vals": "901\n0.2873\n0.01585"}]},
   "layer": [
    {
     "mark": {"type": "text", "color": "black", "font": "Liberation Serif", "fontWeight": "bold", "fontSize": 20, "align": "left", "baseline": "alphabetic", "lineBreak": "\n", "lineHeight": 30},
     "encoding": {"x": {"datum": 0.33095, "type": "quantitative", "axis": null}, "y": {"datum": 36.36, "type": "quantitative", "axis": null}, "text": {"field": "names"}}
    },
    {
     "mark": {"type": "text", "color": "black", "font": "Liberation Serif", "fontWeight": "bold", "fontSize": 20, "align": "right", "baseline": "alphabetic", "lineBreak": "\n", "lineHeight": 30},
     "encoding": {"x": {"datum": 0.3586, "type": "quantitative", "axis": null}, "y": {"datum": 36.36, "type": "quantitative", "axis": null}, "text": {"field": "vals"}}
    }
   ]
  },
  {
   "data": {"values": [{"k": "frame"}]},
   "mark": {"type": "rect", "fill": null, "stroke": "#222222", "strokeWidth": 1.5},
   "encoding": {
    "x": {"datum": 0.25, "type": "quantitative", "axis": null}, "x2": {"datum": 0.36},
    "y": {"datum": 0, "type": "quantitative", "axis": null}, "y2": {"datum": 37.77}
   }
  }
 ]
},
{
 "data": {"values": [
  {"line": 1, "col": 0, "kind": "first", "lab": "Fig. a:", "txt": "Typical signal recorder with the antenna polarization plane parallel to"},
  {"line": 2, "col": 0, "kind": "cont", "lab": "", "txt": "the beam axis."},
  {"line": 3, "col": 0, "kind": "first", "lab": "Fig. b:", "txt": "Power spectrum as a function of the frequency."},
  {"line": 4, "col": 0, "kind": "first", "lab": "Fig. c:", "txt": "The Power of the signal shows a quadratic dependence with the beam"},
  {"line": 5, "col": 0, "kind": "cont", "lab": "", "txt": "intensity. This trend does not depend on the orientation of the antenna"},
  {"line": 6, "col": 0, "kind": "cont", "lab": "", "txt": "polarization plane."},
  {"line": 7, "col": 0, "kind": "first", "lab": "Fig. d:", "txt": "Voltage r.m.s. distribution normalized to the beam intensity obtained"},
  {"line": 8, "col": 0, "kind": "cont", "lab": "", "txt": "when the antenna polarization plane is orthogonal to the beam axis."},
  {"line": 9, "col": 0, "kind": "first", "lab": "Fig. e:", "txt": "The same as Fig. d but with antenna polarization plane is parallel to"},
  {"line": 10, "col": 0, "kind": "cont", "lab": "", "txt": "the beam axis"}
 ]},
 "encoding": {
  "x": {"field": "col", "type": "quantitative", "scale": {"domain": [0, 1], "range": [1631, 3243], "nice": false, "zero": false}, "axis": null},
  "y": {"field": "line", "type": "quantitative", "scale": {"domain": [1, 10], "range": [782, 1263.4], "nice": false, "zero": false}, "axis": null}
 },
 "layer": [
  {"transform": [{"filter": "datum.kind == 'first'"}], "mark": {"type": "text", "color": "#ff0000", "font": "Liberation Sans", "fontSize": 48, "align": "left", "baseline": "alphabetic"}, "encoding": {"text": {"field": "lab"}}},
  {"transform": [{"filter": "datum.kind == 'first'"}], "mark": {"type": "text", "color": "black", "font": "Liberation Sans", "fontSize": 48, "align": "left", "baseline": "alphabetic", "dx": 147}, "encoding": {"text": {"field": "txt"}}},
  {"transform": [{"filter": "datum.kind == 'cont'"}], "mark": {"type": "text", "color": "black", "font": "Liberation Sans", "fontSize": 48, "align": "left", "baseline": "alphabetic"}, "encoding": {"text": {"field": "txt"}}}
 ]
}
]
}
